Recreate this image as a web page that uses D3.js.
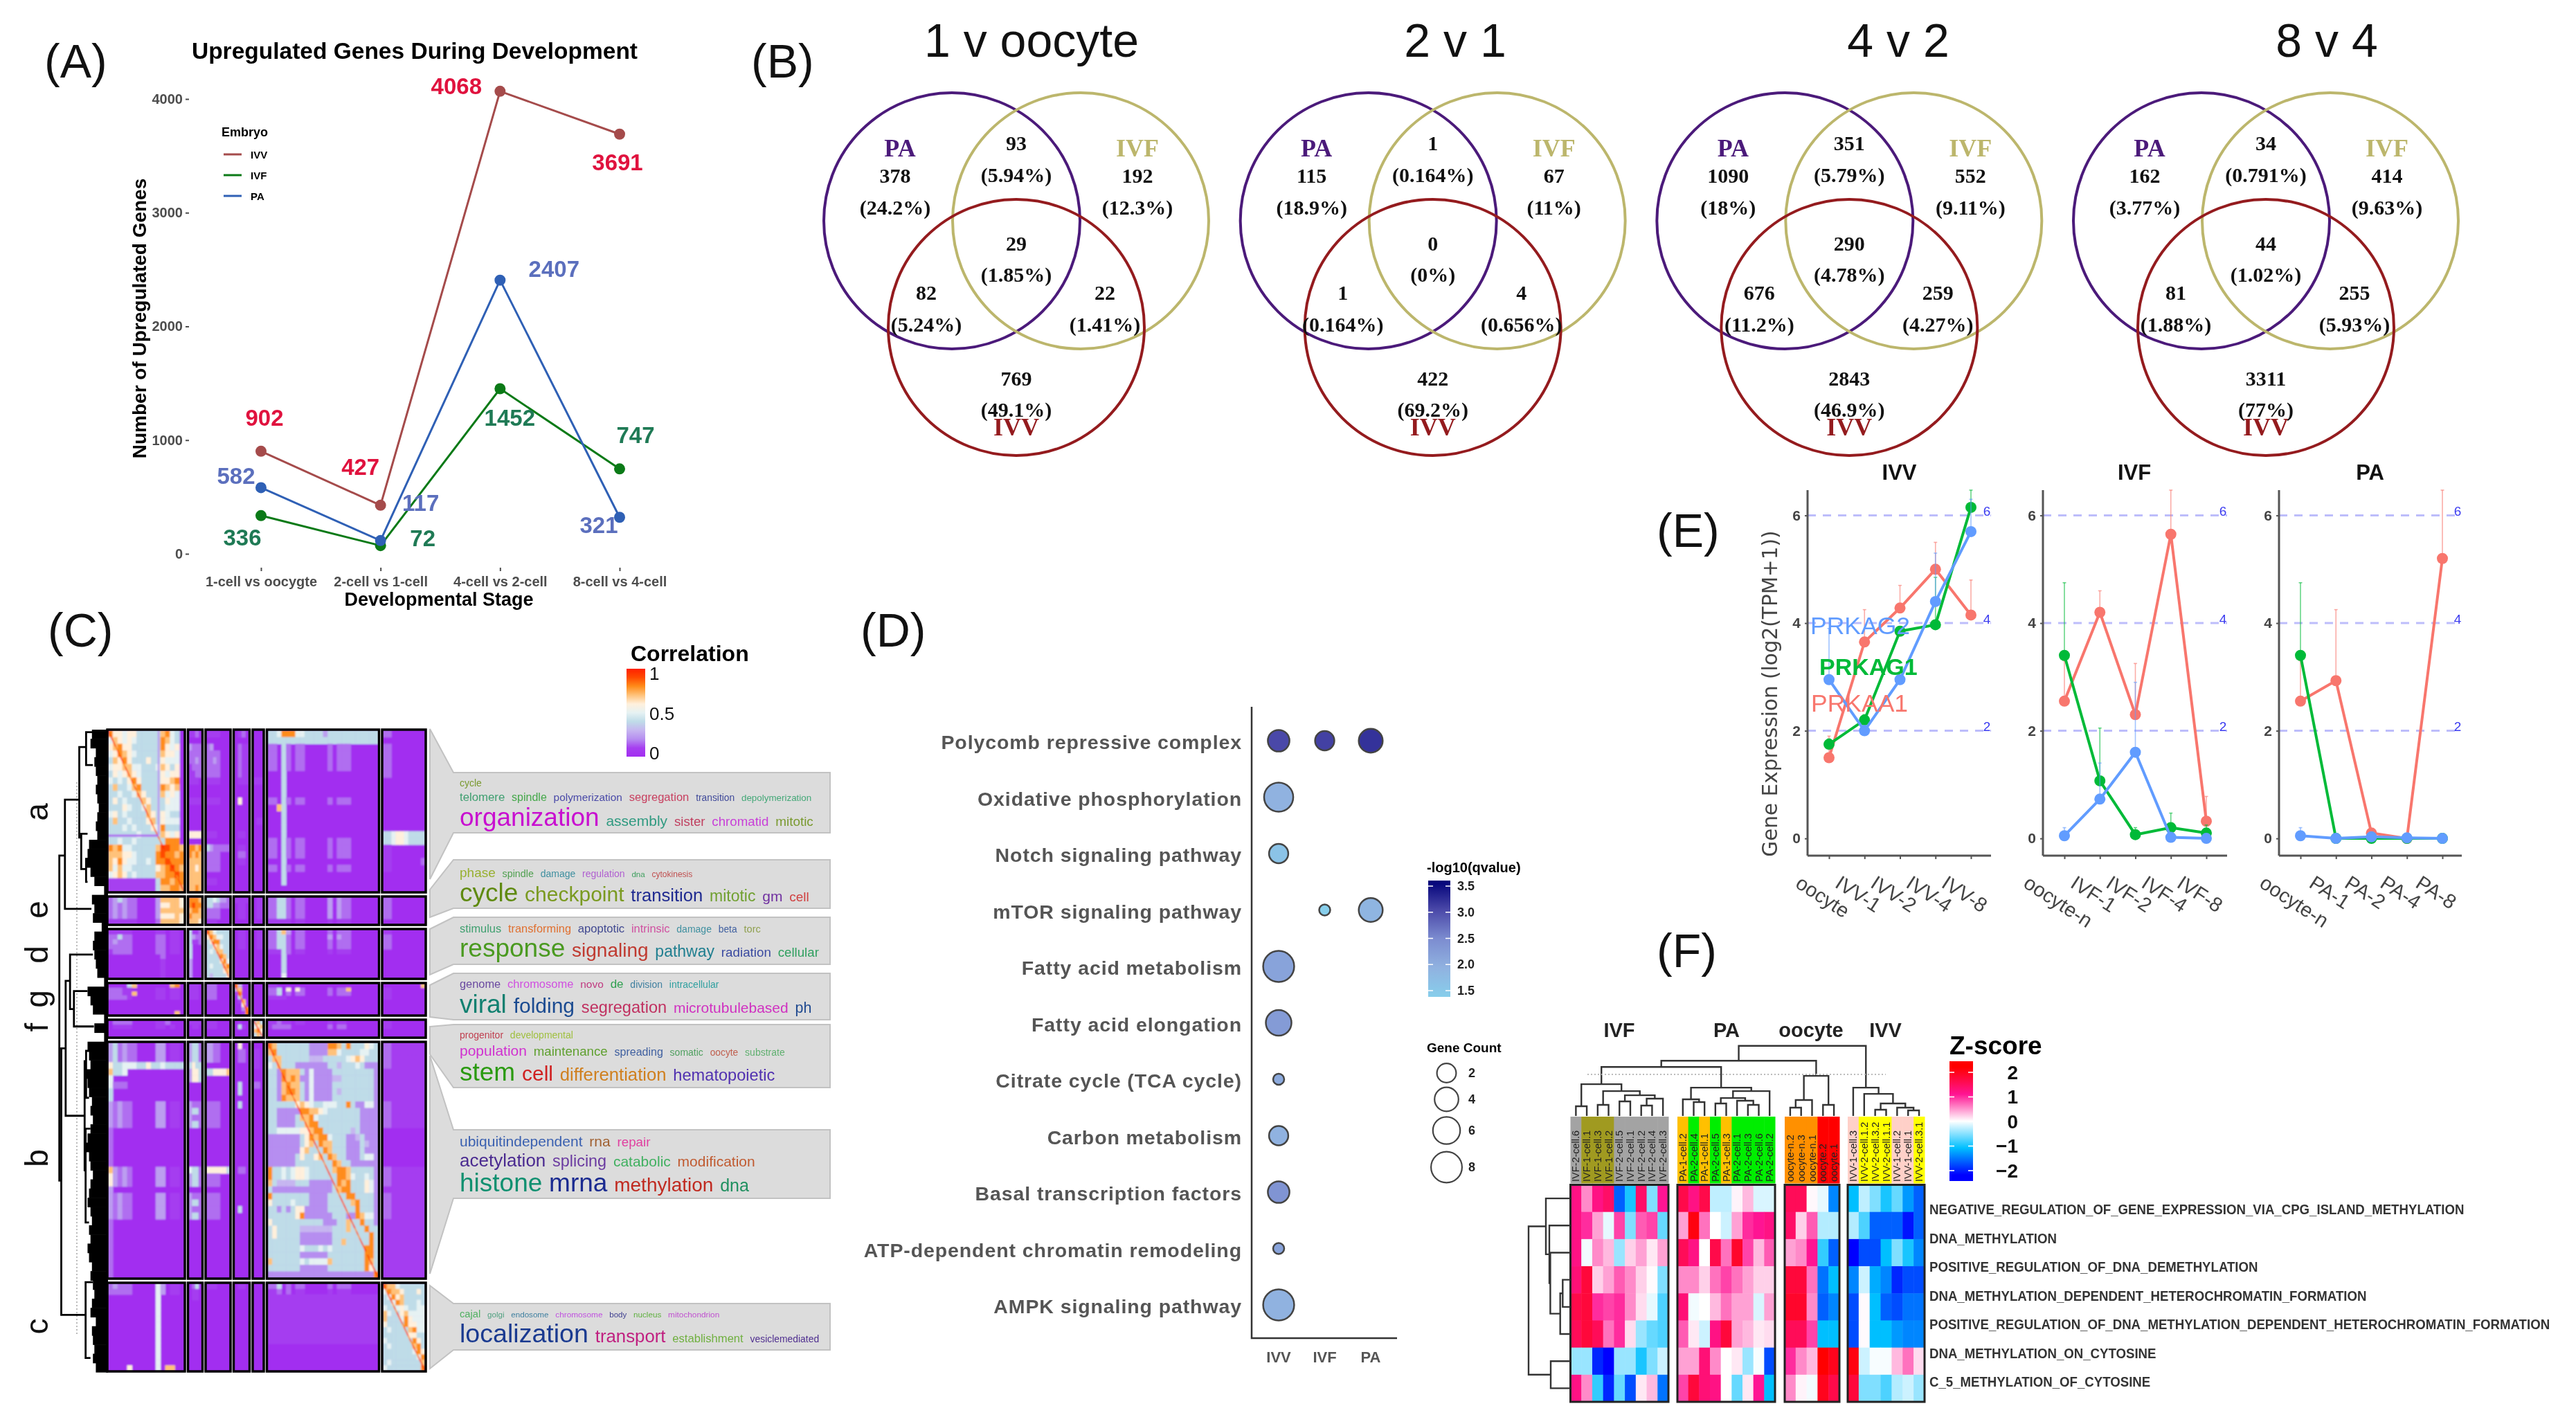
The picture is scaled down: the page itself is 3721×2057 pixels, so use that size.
<!DOCTYPE html>
<html><head><meta charset="utf-8">
<script src="https://cdn.jsdelivr.net/npm/d3@7"></script>
<style>
html,body{margin:0;background:#fff}
svg{display:block;filter:blur(.7px)}
text{font-family:"Liberation Sans",Arial,sans-serif}
</style></head><body>
<svg id="chart" width="3721" height="2057" xmlns="http://www.w3.org/2000/svg"></svg>
<script>
/* ---------- Panel A data ---------- */
const stages=["1-cell vs oocygte","2-cell vs 1-cell","4-cell vs 2-cell","8-cell vs 4-cell"];
const upIVV=[902,427,4068,3691];
const upIVF=[336,72,1452,747];
const upPA=[582,117,2407,321];
const upTicks=[0,1000,2000,3000,4000];
/* ---------- Panel B data ---------- */
const vennTitles=["1 v oocyte","2 v 1","4 v 2","8 v 4"];
const vennCounts=[[378,93,192,29,82,22,769],[115,1,67,0,1,4,422],[1090,351,552,290,676,259,2843],[162,34,414,44,81,255,3311]];
const vennPct=[["24.2%","5.94%","12.3%","1.85%","5.24%","1.41%","49.1%"],["18.9%","0.164%","11%","0%","0.164%","0.656%","69.2%"],["18%","5.79%","9.11%","4.78%","11.2%","4.27%","46.9%"],["3.77%","0.791%","9.63%","1.02%","1.88%","5.93%","77%"]];
const vennSets=["PA","IVF","IVV"];
/* ---------- Panel C data: correlation, one digit = value x 10, x = 1 ---------- */
const clusterNames=["a","e","d","g","f","b","c"];
const clusterCols=[112,21,36,23,16,162,63];
const clusterRows=[235,41,72,47,26,342,128];
const corrRowA=[
 ["8665664444478540","5765654444487540","6786644444486560","5687654444476650","4768644464465550","5667755444576460","4656765444465660","5454686444466780","4744578444487670","4454457644475650","4645444764446550","4446544574445550","5645444476465440","4744544467465550","4445454446584440","4444445444476560","4454454444448880","8785544444799887","7776654444898878","7686554454889888","7575544444678987","5676454444778898","1111111111488788","1111111111477887"],
 ["1120","","3222","2222","2232","1222","1122","1110","","","1111","","","","","6666","","8878","8787","7777","7767","7777","7777","7787"],
 ["1111000","","2300000","2222000","2232000","2222000","2222000","1111000","","","1111000","","","","","1110000","","4322222","2222000","2222000","2222000","","1110000",""],
 ["0120","","0211","0211","0211","0211","0211","0111","","","0600","","","","","0110","","0110","0220","0110","","","",""],
 ["","","","","","","","111","","","","","","011","","","","","","","","","",""],
 ["445888554444344444444444","444444444444444444444444","220420220000020222000000","220420220000020222000000","220420220000020222000000","220420220000020222000000","000400000000000000000000","000400000000000000000000","000400000000000000000000","000400000000000000000000","220420220000020222000000","007400000000000000000000","000400000000000000000000","000400000000000000000000","000400000000000000000000","000400000000000000000000","220420220000020222000000","220420220000020222000000","220420220000020222000000","000400000000000000000000","220420220000020222000000","000400000000000000000000","000400000000000000000000",""],
 ["22","","22","22","22","22","22000000003","","","","","","","","","4456654444","4456654444","11","11","1100000002","11","","",""]
];
const corrRowE=[
 ["2343220000377776","2323220000366776","2323220000377777","2323220000366676","1111110000277776"],
 ["8887","8988","7887","8777","7776"],
 ["4454332","4433222","2222000","2222000","1110000"],
 ["1111","0110","0110","0110",""],
 ["011","011","011","011",""],
 ["224420220000030322000000","224420220000030322000000","224420220000030322000000","224420220000030322000000","111110110000010111000000"],
 ["22","22","22","22",""]
];
const corrRowD=[
 ["1111100000110110","2242200000220110","2322200000220110","2222200000220110","1222200000220110","0000000000020000","0000000000010000","0000000000010000","0000000000010000","0000000000010000"],
 ["4112","4322","4112","4000","4000","4000","3000","3000","3000","3000"],
 ["8754444","6875544","4688444","4467544","4547744","4444874","4444685","4544478","4444467","4344446"],
 ["0110","0110","0110","0110","","","","","",""],
 ["011","011","011","011","","","","","",""],
 ["224730220000020222000000","224420220000030322000000","224420220000020222000000","224420220000020222000000","111420110000010111000000","000400000000000000000000","000400000000000000000000","000400000000000000000000","000400000000000000000000","000500000000000000000000"],
 ["11","22","22","22","","","","","",""]
];
const corrRowG=[
 ["0000470000000780","2221100000110110","2221170000110110","2222100000110110","","","","0000000000000070"],
 ["1110","1110","1110","1110","","","",""],
 ["2220000","2220000","2220000","2220000","","","",""],
 ["8300","3700","1800","0400","0170","0060","0028","0018"],
 ["","","","","","","",""],
 ["110000000000000000000000","224060620000020227000000","224020220000020222000000","111100000000000000000000","","","",""],
 ["0000000007","11","11","11","","","",""]
];
const corrRowF=[
 ["0222200000112000","0111100000110100","",""],
 ["1111","0110","",""],
 ["1110000","1110000","",""],
 ["0100","0410","",""],
 ["474","567","786","474"],
 ["112110110000010110000000","122220000000020220000000","",""],
 ["11","11","",""]
];
const corrRowB=[
 ["3423220000330110","3423220000330110","3423220000330110","6445554464454444","7445000000000000","5000000000000000","5222000000000000","4000000000000000","4000000000000000","3232200000330110","3232200000330110","3232200000330110","3232200000330110","2000000000000000","2000000000000000","2000000000000000","2000000000000000","2000000000000000","2000000000000000","7323200000330110","6323200000330110","6323200000330110","3000000000000000","3232200000330110","3232200000330110","3232200000330110","3232200000330110","2000000000000000","2000000000000000","2000000000000000","2000000000000000","2000000000000000","2000000000000000","2000000000000000","2000000000000000","2000000000000000"],
 ["3442","3442","3442","4644","3664","3664","","","","3222","3442","3222","3442","","","","","","","5442","3442","3442","","3222","3442","3222","3442","","","","","","","","",""],
 ["3322000","3322000","3322000","","4466667","","","","","2222000","2222000","2222000","2222000","","","","","","","6666664","2222000","2222000","","2222000","2222000","2222000","2222000","","","","","","","","",""],
 ["0600","0220","0220","","","","0400","0400","","0400","","","","","","","","","","0220","","","","","","0400","","","","","","","","","",""],
 ["","110","110","110","","","220","","","","","","","","","","","","","","","","","","","","","","","","","","","","",""],
 ["874444444222288748444654","784444444222277544445544","477444444333444445676444","547444222222244344454222","442877742522224444444442","442878722522223344444442","442787742522224444444442","442788742522224344444442","442877742522224444444442","444444676544555448422552","442222288776544444442222","442222477854444444442222","442222447884444444442222","445555566788444444342222","222222246878854442234222","222222246748774442224322","222222267444874442224222","222222464467487442224552","222222444444448744222222","844545665444447887444442","844545665444444887544542","743333444222224878444652","422222222222224788444652","844444444222244448844442","644445444222244444784442","442424662222244444484442","444444682222224442287552","644444444444222447448442","464444433333334447444844","464444422222224444444484","444444422222224474444484","444444454445454444444884","444444422222244444444884","744444454555574444444874","444444422222244444444864","222222222222222222222228"],
 ["2211111111","2211111111","2211111111","2211111111","1111111111","1111111111","1111111111","1111111111","1111111111","2211111111","2211111111","2211111111","2211111111","","","","","","","2211111111","2211111111","2211111111","1111111111","2211111111","2211111111","2211111111","2211111111","1111111111","1111111111","1111111111","1111111111","1111111111","1111111111","1111111111","1111111111","1111111111"]
];
const corrRowC=[
 ["2322200000530110","2222200000530110","0000000000500000","0000000000500000","0000000000500000","0000000000500000","0000000000500000","0000000000500000","0000000000500000","0000000000500000","0000000000500000","0000000000500000","0000000000500000","0000000000500000","0000000000500000","0000600000507700"],
 ["0240","0110","0110","","","","","","","","","","","","",""],
 ["1110000","","","","","","","","","","","","","","",""],
 ["0110","","","","","","","","","","","","","","",""],
 ["","","","","","","","","","","","","","","",""],
 ["224020220000020222000000","112020110000010111000000","111111111111111111111111","111111111111111111111111","111111111111111111111111","111111111111111111111111","111111111111111111111111","111111111111111111111111","111111111111111111111111","111111111111111111111111","111111111111111111111111","","","","",""],
 ["8775444444","5877644464","4586744444","4458744454","5445654455","7544675555","7444586555","6444486655","4544447855","4444446644","5444444864","4544444784","4444444586","4444444458","4544444447","5444444448"]
];
const corrGrid=[corrRowA,corrRowE,corrRowD,corrRowG,corrRowF,corrRowB,corrRowC];
const corrDiagonals=[
 {row:0,col:0,vals:"x9x99899x9899989898x9989x9899899989x98899x99899x9"},
 {row:2,col:2,vals:"x9898x99899x989x9898"},
 {row:3,col:3,vals:"x989x8989x9x"},
 {row:4,col:4,vals:"x9x9x"},
 {row:5,col:5,vals:"x99x89x989x9899x8989x99899x989x989x9899x99x8989x9x989x9x8989x9x899x9xxx"},
 {row:6,col:6,vals:"x9899x9898x9x9899x8989x989x9xx"}
];
const corrTicks=[0,0.5,1];
/* dendrogram C: [merge height, top position, top child height, bottom position, bottom child height] */
const clusterMerges=[[100,19.6,88.5,70.2,96],[96,49.6,87,91.1,46],[87,39.1,78,60.1,48],[78,35.0,31,43.5,70],[70,40.7,42,46.2,29],[88.5,10.9,59,27.9,34],[59,2.7,45,16.8,55],[45,0.4,31,5.5,31],[55,16.2,42,21.7,45],[45,20.1,36,23.7,42],[46,86,31,97.8,36],[48,51.6,45,68.6,46],[45,50,36,57.3,39],[46,62.1,36,76.7,39]];
const clusterLeafHeights=[33,36,25,28,25,22,25,22,19,22,25,22,39,42,45,36,28,8,33,28,31,13,28,31,28,25,22,8,42,36,31,8,28,8,42,39,36,45,42,39,33,36,31,36,42,45,39,36,31,36,39,42,36,33,39,36,42,39,33,36,31,28,33,36,25,33,31,28,31,25];
const cloudTerms=[
 [["cycle"],["telomere","spindle","polymerization","segregation","transition","depolymerization"],["organization","assembly","sister","chromatid","mitotic"]],
 [["phase","spindle","damage","regulation","dna","cytokinesis"],["cycle","checkpoint","transition","mitotic","gm","cell"]],
 [["stimulus","transforming","apoptotic","intrinsic","damage","beta","torc"],["response","signaling","pathway","radiation","cellular"]],
 [["genome","chromosome","novo","de","division","intracellular"],["viral","folding","segregation","microtubulebased","ph"]],
 [["progenitor","developmental"],["population","maintenance","spreading","somatic","oocyte","substrate"],["stem","cell","differentiation","hematopoietic"]],
 [["ubiquitindependent","rna","repair"],["acetylation","splicing","catabolic","modification"],["histone","mrna","methylation","dna"]],
 [["cajal","golgi","endosome","chromosome","body","nucleus","mitochondrion"],["localization","transport","establishment","vesiclemediated"]]
];
const cloudWeights=[
 [[14],[16.8,16,15.4,16.6,13.8,13.4],[37,21,18.7,18.7,18.9]],
 [[19,14.3,14,14,11.6,12],[37,30,25.6,23,21,19]],
 [[16.4,16.4,16.6,16.4,14,13.8,14.7],[37,28,23,18.8,18.7]],
 [[16.4,16.5,15.5,17,14,14],[37,30,23.6,21,21.5]],
 [[14,14],[21,18.7,16,14,13.8,14],[37,30,25.7,23.6]],
 [[21,21,18.8],[26,23.4,21,21],[37,37,28,25]],
 [[14.7,11.6,11.6,11.8,11.5,11.7,11.8],[37.6,25.8,16.6,13.9]]
];
/* ---------- Panel D data ---------- */
const pathways=["Polycomb repressive complex","Oxidative phosphorylation","Notch signaling pathway","mTOR signaling pathway","Fatty acid metabolism","Fatty acid elongation","Citrate cycle (TCA cycle)","Carbon metabolism","Basal transcription factors","ATP-dependent chromatin remodeling","AMPK signaling pathway"];
const embryoGroups=["IVV","IVF","PA"];
const geneCountIVV=[3,7,2,null,8,5,1,2,3,1,8];
const geneCountIVF=[2,null,null,1,null,null,null,null,null,null,null];
const geneCountPA=[4,null,null,4,null,null,null,null,null,null,null];
const qvalueIVV=[3.0,2.0,1.7,null,2.2,2.3,2.1,2.0,2.4,2.2,2.0];
const qvalueIVF=[3.05,null,null,1.5,null,null,null,null,null,null,null];
const qvaluePA=[3.15,null,null,1.95,null,null,null,null,null,null,null];
const qvalueTicks=[1.5,2.0,2.5,3.0,3.5];
const geneCountTicks=[2,4,6,8];
/* ---------- Panel E data ---------- */
const exprPanels=["IVV","IVF","PA"];
const exprStages=[["oocyte","IVV-1","IVV-2","IVV-4","IVV-8"],["oocyte-n","IVF-1","IVF-2","IVF-4","IVF-8"],["oocyte-n","PA-1","PA-2","PA-4","PA-8"]];
const genes=["PRKAA1","PRKAG1","PRKAG2"];
const exprPRKAA1=[[1.5,3.65,4.28,5.0,4.15],[2.55,4.2,2.3,5.65,0.32],[2.55,2.93,0.1,0,5.2]];
const exprPRKAG1=[[1.75,2.2,3.85,3.97,6.15],[3.4,1.07,0.07,0.2,0.1],[3.4,0,0,0,0]];
const exprPRKAG2=[[2.95,2.0,2.95,4.4,5.7],[0.05,0.73,1.6,0.02,0],[0.05,0,0.03,0.01,0]];
const upperPRKAA1=[[1.9,4.25,4.7,5.5,4.8],[3.3,4.6,3.25,6.5,0.78],[3.3,4.25,0.15,0,6.5]];
const upperPRKAG1=[[1.85,2.3,3.9,4.85,6.5],[4.75,2.05,0.2,0.47,0.25],[4.75,0,0,0,0]];
const upperPRKAG2=[[3.9,2.1,3.0,5.3,6.3],[0.2,1.4,2.9,0.05,0.02],[0.2,0,0.05,0.03,0]];
const exprTicks=[0,2,4,6];
const exprRefLines=[2,4,6];
/* ---------- Panel F data ---------- */
const sampleGroups=["IVF","PA","oocyte","IVV"];
const samplesIVF=["IVF-2-cell.6","IVF-1-cell.1","IVF-1-cell.3","IVF-1-cell.2","IVF-2-cell.5","IVF-2-cell.1","IVF-2-cell.2","IVF-2-cell.4","IVF-2-cell.3"];
const samplesPA=["PA-1-cell.2","PA-2-cell.4","PA-1-cell.1","PA-2-cell.5","PA-1-cell.3","PA-2-cell.1","PA-2-cell.3","PA-2-cell.6","PA-2-cell.2"];
const samplesOocyte=["oocyte-n.2","oocyte-n.3","oocyte-n.1","oocyte.2","oocyte.1"];
const samplesIVV=["IVV-1-cell.3","IVV-2-cell.1.2","IVV-2-cell.3.2","IVV-2-cell.1.1","IVV-1-cell.2","IVV-1-cell.1","IVV-2-cell.3.1"];
const zIVF=[[1.1,0.5,1.1,1.3,-1.5,-0.9,1.3,-0.5,1.0],[1.1,0.9,0.4,-0.1,0.8,-0.5,0.7,0.8,-0.6],[1.1,-0.05,0.5,0.3,-0.4,0.2,0.4,0.1,0.4],[1.2,1.6,0.2,0.4,0.7,0.5,0.2,0.02,-0.5],[1.5,1.6,0.9,0.8,0.9,0.5,0.15,-0.1,-0.7],[1.4,1.6,1.4,0.6,0.9,0.15,-0.4,-0.6,-0.7],[-0.4,-0.4,-1.8,-2.0,-0.4,-0.4,-0.9,-0.5,-0.2],[1.1,0.5,-0.8,-1.8,-0.6,-1.6,0.1,0.3,-1.4]];
const zPA=[[1.5,1.1,1.5,-0.25,-0.25,0.05,0.3,-0.15,-0.15],[0.4,1.9,0.6,0.0,-0.2,0.4,0.9,1.0,1.1],[1.4,1.1,0.0,1.5,0.6,1.7,0.8,0.3,0.7],[0.5,0.5,0.2,0.6,0.8,0.6,0.4,0.2,0.2],[1.2,-0.05,0.0,0.3,0.6,0.4,0.4,-0.15,0.4],[0.7,0.1,-0.2,1.1,1.6,0.4,0.3,0.1,0.15],[0.4,0.4,1.2,0.5,0.0,0.1,-0.4,-0.03,-1.6],[0.8,1.6,1.2,1.1,0.0,-0.6,0.1,1.0,-1.0]];
const zOocyte=[[1.4,1.4,0.03,-0.1,-1.3],[1.3,0.2,0.7,-0.3,-0.3],[0.4,0.5,1.0,-0.8,-1.5],[1.6,1.6,0.6,-1.4,-1.0],[1.7,1.7,0.5,-1.5,-1.3],[1.4,1.4,0.8,-1.0,-1.0],[0.9,0.5,0.3,2.0,1.8],[0.5,0.05,-0.05,1.8,1.5]];
const zIVV=[[-1.0,-0.25,-0.5,-0.9,-0.6,-1.2,-1.5],[-0.3,-0.7,-1.5,-1.5,-1.5,-1.9,-1.5],[-2.0,-1.6,-1.6,-1.0,-0.5,-0.9,-1.3],[-1.3,-0.2,-1.1,-1.3,-1.8,-1.6,-1.6],[-1.6,0.02,-1.0,-1.5,-1.6,-1.4,-1.4],[-1.6,0.02,-1.0,-1.0,-1.2,-1.3,-1.3],[1.9,-0.2,-0.03,-0.03,0.3,0.6,0.15],[1.6,-0.5,-0.5,-0.7,-0.3,-0.2,-0.4]];
const geneSets=["NEGATIVE_REGULATION_OF_GENE_EXPRESSION_VIA_CPG_ISLAND_METHYLATION","DNA_METHYLATION","POSITIVE_REGULATION_OF_DNA_DEMETHYLATION","DNA_METHYLATION_DEPENDENT_HETEROCHROMATIN_FORMATION","POSITIVE_REGULATION_OF_DNA_METHYLATION_DEPENDENT_HETEROCHROMATIN_FORMATION","DNA_METHYLATION_ON_CYTOSINE","C_5_METHYLATION_OF_CYTOSINE"];
const zTicks=[2,1,0,-1,-2];
/* sample tree: [merge height, child, child]; a number is a leaf */
const treeIVF=[46,[14,0,1],[36,[16,2,3],[30,[21,4,5],[25,[15,6,7],8]]]];
const treePA=[41,[24,9,[20,10,11]],[36,[26,[18,12,13],[22,14,[16,15,16]]],17]];
const treeOocyte=[58,[23,[12,18,19],20],[16,21,22]];
const treeIVV=[41,23,[32,24,[18,[9,25,26],[12,27,[8,28,29]]]]];
const sampleTree=[101.5,[80,[71,treeIVF,treePA],treeOocyte],treeIVV];
const rowTree=[60,[35,0,[30,1,[28.6,2,[14.3,[10.7,3,4],5]]]],[28,6,7]];

/* ---------- styles (kept apart from the data) ---------- */
const FG="#4d4d4d";
const cloudColors=[
 [["#7a9a30"],["#3f9f70","#45a84a","#4a4aa8","#c84060","#404a9a","#45a878"],["#c80fd0","#2f9a80","#c04060","#c840d8","#7a9a30"]],
 [["#98b030","#50a050","#4090a0","#b060d0","#40a060","#c05050"],["#5f8a10","#7a9a20","#1f2a90","#70a030","#7030a0","#d04040"]],
 [["#40a070","#e07030","#404890","#d050a0","#4090a0","#4060a0","#90a050"],["#4a9a20","#c03a30","#207f90","#3a4aa0","#30a060"]],
 [["#6a4aa0","#d050e0","#c03a80","#30a050","#4080a0","#30a0a0"],["#108070","#1a4a90","#c03060","#d030c0","#204a90"]],
 [["#c04050","#a0c040"],["#d030d0","#60a030","#4060a0","#50a060","#c06050","#60b070"],["#2a9a10","#d02020","#d08020","#5030b0"]],
 [["#3a60b0","#a06030","#e040a0"],["#4a2a90","#6a3aa0","#40b060","#c05a30"],["#109070","#1a2a90","#c02a20","#209060"]],
 [["#50b060","#50a080","#4080a0","#c050e0","#404090","#60b040","#c050d0"],["#1a3a90","#c02080","#70b040","#503090"]]
];
const svg=d3.select("#chart");
const defs=svg.append("defs");
defs.append("filter").attr("id","soft").attr("x","-2%").attr("y","-2%").attr("width","104%").attr("height","104%").append("feGaussianBlur").attr("stdDeviation",0.9);
function T(g,x,y,s,o={}){
  const t=g.append("text").attr("x",x).attr("y",y).text(s)
   .attr("font-size",o.size||20).attr("fill",o.fill||"#000")
   .attr("text-anchor",o.anchor||"middle").attr("dominant-baseline",o.base||"central");
  if(o.bold)t.attr("font-weight","bold");
  if(o.family)t.style("font-family",o.family);
  if(o.spacing)t.style("letter-spacing",o.spacing+"px");
  if(o.rotate!=null)t.attr("transform",`rotate(${o.rotate},${x},${y})`);
  return t;
}
/* panel tags */
[["(A)",64,112],["(B)",1085,112],["(C)",69,934],["(D)",1243,934],["(E)",2393,790],["(F)",2393,1397]].forEach(d=>
  T(svg,d[1],d[2],d[0],{size:68,anchor:"start",base:"auto",fill:"#111"}));

/* ===== Panel A ===== */
(function(){
  const g=svg.append("g");
  const x=d3.scalePoint().domain(stages).range([377,895]);
  const y=d3.scaleLinear().domain([0,4000]).range([800,143]);
  const ax=g.append("g").attr("transform","translate(273,0)").call(d3.axisLeft(y).tickValues(upTicks).tickFormat(d3.format("d")).tickSize(5).tickPadding(4));
  ax.select(".domain").remove();
  ax.selectAll("text").style("font-size","20px").style("font-weight","bold").attr("fill",FG);
  ax.selectAll("line").attr("stroke",FG).attr("stroke-width",2);
  const bx=g.append("g").attr("transform","translate(0,820)").call(d3.axisBottom(x).tickSize(5).tickPadding(8));
  bx.select(".domain").remove();
  bx.selectAll("text").style("font-size","20px").style("font-weight","bold").attr("fill",FG);
  bx.selectAll("line").attr("stroke",FG).attr("stroke-width",2);
  const series=[
   {name:"IVV",vals:upIVV,c:"#a54b4b",tc:"#e0123e",off:[[5,-48],[-29,-55],[-63,-7],[-3,41]]},
   {name:"IVF",vals:upIVF,c:"#0b7a17",tc:"#1f7a55",off:[[-27,32],[61,-11],[14,42],[23,-49]]},
   {name:"PA",vals:upPA,c:"#2f60b5",tc:"#5b6fbd",off:[[-36,-17],[58,-54],[78,-16],[-30,11]]}];
  const line=d3.line().x((d,i)=>x(stages[i])).y(d=>y(d));
  series.forEach(s=>{
    g.append("path").attr("d",line(s.vals)).attr("fill","none").attr("stroke",s.c).attr("stroke-width",3);
    g.selectAll(null).data(s.vals).join("circle").attr("cx",(d,i)=>x(stages[i])).attr("cy",d=>y(d)).attr("r",8).attr("fill",s.c);
  });
  series.forEach(s=>s.vals.forEach((v,i)=>T(g,x(stages[i])+s.off[i][0],y(v)+s.off[i][1],v,{size:33,bold:true,fill:s.tc})));
  T(g,599,73,"Upregulated Genes During Development",{size:33.5,bold:true});
  T(g,201,460,"Number of Upregulated Genes",{size:28,bold:true,rotate:-90});
  T(g,634,866,"Developmental Stage",{size:27,bold:true});
  T(g,320,191,"Embryo",{size:18,bold:true,anchor:"start"});
  series.forEach((s,i)=>{
    const ly=d3.scalePoint().domain(series.map(d=>d.name)).range([223,283])(s.name);
    g.append("line").attr("x1",323).attr("x2",349).attr("y1",ly).attr("y2",ly).attr("stroke",s.c).attr("stroke-width",3);
    T(g,362,ly,s.name,{size:15,bold:true,anchor:"start"});
  });
})();

/* ===== Panel B ===== */
(function(){
  const regionOff=[[-82,253,299],[93,206,252],[268,253,299],[93,351,396],[-37,422,468],[221,422,468],[93,546,591]];
  const setStyle=[{c:"#4b1a7a",dx:0,dy:319,lx:-75,ly:214},{c:"#bcb66c",dx:186,dy:319,lx:268,ly:214},{c:"#941b1e",dx:93,dy:473,lx:93,ly:617}];
  const serif='"Liberation Serif",serif';
  const px=d3.scalePoint().domain(vennTitles).range([1375,3180]);
  const ttlx=[1490,2102,2742,3361];
  vennTitles.forEach((t,i)=>{
    const g=svg.append("g");const cx=px(t);
    T(g,ttlx[i],82,t,{size:68,anchor:"middle",base:"auto",fill:"#111"});
    vennSets.forEach((n,k)=>{
      const s=setStyle[k];
      g.append("circle").attr("cx",cx+s.dx).attr("cy",s.dy).attr("r",185).attr("fill","none").attr("stroke",s.c).attr("stroke-width",4);
    });
    vennSets.forEach((n,k)=>{const s=setStyle[k];
      T(g,cx+s.lx,s.ly,n,{size:36,bold:true,fill:s.c,family:serif});});
    regionOff.forEach((o,k)=>{
      T(g,cx+o[0],o[1],vennCounts[i][k],{size:30,bold:true,fill:"#111",family:serif});
      T(g,cx+o[0],o[2],"("+vennPct[i][k]+")",{size:30,bold:true,fill:"#111",family:serif});
    });
  });
})();

/* ===== Panel C ===== */
(function(){
  const g=svg.append("g");
  const heat=g.append("g").attr("filter","url(#soft)");
  const color=d3.scaleLinear().domain([0,.1,.2,.3,.4,.5,.6,.7,.8,.9,1])
    .range(["#a22ef0","#a63ff0","#b68ef0","#c6b6f0","#bfdce8","#e6f2f3","#fff0dc","#ffc27a","#ff8c1a","#ff4a00","#ff2000"]);
  const cum=(a,gap,st)=>{let p=st;return a.map(v=>{const r=[p,p+v];p+=v+gap;return r;});};
  const colX=cum(clusterCols,4.5,155), rowY=cum(clusterRows,6,1054);
  const val=c=>c==="x"?1:(+c)/10;
  corrGrid.forEach((row,ri)=>row.forEach((grid,ci)=>{
    const [x0,x1]=colX[ci],[y0,y1]=rowY[ri];
    const nc=[16,4,7,4,3,24,10][ci], nr=grid.length;
    const xs=d3.scaleBand().domain(d3.range(nc)).range([x0+1,x1-1]);
    const ys=d3.scaleBand().domain(d3.range(nr)).range([y0+1,y1-1]);
    const b=heat.append("g");
    const tint=ri===ci?1:.8; /* faint patches between clusters */
    b.append("rect").attr("x",x0).attr("y",y0).attr("width",x1-x0).attr("height",y1-y0).attr("fill",color(0));
    grid.forEach((str,r)=>{for(let c=0;c<nc;c++){
      const ch=str[c]||"0";
      if(ch==="0")continue;
      const v=val(ch);
      b.append("rect").attr("x",xs(c)).attr("y",ys(r)).attr("width",xs.bandwidth()+.6).attr("height",ys.bandwidth()+.6).attr("fill",color(v<=.3?v*tint:v));
    }});
  }));
  corrDiagonals.forEach(d=>{
    const [x0,x1]=colX[d.col],[y0,y1]=rowY[d.row];const n=d.vals.length;
    const xs=d3.scaleLinear().domain([0,n]).range([x0+1,x1-1]),ys=d3.scaleLinear().domain([0,n]).range([y0+1,y1-1]);
    heat.selectAll(null).data(d.vals.split("")).join("line")
      .attr("x1",(v,i)=>xs(i)).attr("y1",(v,i)=>ys(i)).attr("x2",(v,i)=>xs(i+1)).attr("y2",(v,i)=>ys(i+1))
      .attr("stroke",v=>color(val(v))).attr("stroke-width",1.9);
  });
  /* a-block cross streaks */
  const [ax0,ax1]=colX[0],[ay0,ay1]=rowY[0];
  heat.append("rect").attr("x",ax0+1).attr("y",ay0+.645*(ay1-ay0)).attr("width",.65*(ax1-ax0)).attr("height",3).attr("fill",color(.15));
  heat.append("rect").attr("x",ax0+.65*(ax1-ax0)).attr("y",ay0).attr("width",2.5).attr("height",.645*(ay1-ay0)).attr("fill",color(.22));
  colX.forEach(cx=>rowY.forEach(ry=>{
    g.append("rect").attr("x",cx[0]).attr("y",ry[0]).attr("width",cx[1]-cx[0]).attr("height",ry[1]-ry[0]).attr("fill","none").attr("stroke","#000").attr("stroke-width",3.5);
  }));
  /* dendrogram */
  const hx=d3.scaleLinear().domain([0,100]).range([156,85.7]);
  const py=d3.scaleLinear().domain([0,100]).range([1054,1982]);
  g.append("line").attr("x1",111).attr("x2",111).attr("y1",1130).attr("y2",1930).attr("stroke","#bbb").attr("stroke-width",2).attr("stroke-dasharray","2 3");
  const lb=d3.scaleBand().domain(d3.range(clusterLeafHeights.length)).range([1054,1982]);
  g.selectAll(null).data(clusterLeafHeights).join("rect").attr("x",d=>hx(d)).attr("y",(d,i)=>lb(i)).attr("width",d=>hx(0)-hx(d)).attr("height",lb.bandwidth()+.6).attr("fill","#000");
  g.selectAll(null).data(clusterMerges).join("path").attr("fill","none").attr("stroke","#000").attr("stroke-width",2.8)
    .attr("d",m=>`M${hx(m[2])},${py(m[1])}H${hx(m[0])}V${py(m[3])}H${hx(m[4])}`);
  const letterY=[1173,1314,1379,1443,1484,1673,1916];
  clusterNames.forEach((n,i)=>T(g,53,letterY[i],n,{size:46,rotate:-90,fill:"#111"}));
  /* legend */
  T(g,911,944,"Correlation",{size:32,bold:true,anchor:"start"});
  const grad=defs.append("linearGradient").attr("id","gC").attr("x1",0).attr("x2",0).attr("y1",1).attr("y2",0);
  d3.range(0,1.001,.1).forEach(t=>grad.append("stop").attr("offset",t).attr("stop-color",color(t)));
  g.append("rect").attr("x",905).attr("y",966).attr("width",27).attr("height",127).attr("fill","url(#gC)");
  const cl=d3.scaleLinear().domain([0,1]).range([1088,973]);
  corrTicks.forEach(t=>T(g,938,cl(t),t,{size:26,anchor:"start",fill:"#111"}));
  /* callouts */
  const co=[[1053,1270,1116,1203],[1285,1325,1242,1312],[1342,1408,1325,1393],[1423,1469,1406,1473],[1483,1523,1480,1571],[1525,1840,1632,1731],[1857,1977,1883,1950]];
  const base=[[1136,1157,1193],[1267,1302],[1347,1382],[1427,1463],[1500,1525,1561],[1656,1685,1721],[1903,1939]];
  co.forEach((b,i)=>{
    g.append("path").attr("d",`M621,${b[0]}L655,${b[2]}H1199V${b[3]}H655L621,${b[1]}Z`).attr("fill","#dcdcdc").attr("stroke","#c2c2c2").attr("stroke-width",2);
    cloudTerms[i].forEach((ln,li)=>{
      let xp=664;
      ln.forEach((w,wi)=>{
        const t=T(g,xp,base[i][li],w,{size:cloudWeights[i][li][wi],anchor:"start",base:"auto",fill:cloudColors[i][li][wi]});
        xp+=t.node().getComputedTextLength()+9.8;
      });
    });
  });
})();

/* ===== Panel D ===== */
(function(){
  const g=svg.append("g");
  const y=d3.scalePoint().domain(pathways).range([1070,1885]);
  const x=d3.scalePoint().domain(embryoGroups).range([1847,1980]);
  const c=d3.scaleLinear().domain(qvalueTicks).range(["#87ceeb","#90b2e0","#7c8cd0","#4a48a8","#000078"]);
  const r=d3.scaleLinear().domain([1,2,4,6,8]).range([8,13.9,17.3,19.7,22.4]);
  g.append("path").attr("d","M1808,1021V1933H2018").attr("fill","none").attr("stroke","#333").attr("stroke-width",2.5);
  pathways.forEach(p=>T(g,1794,y(p)+2,p,{size:28.5,bold:true,anchor:"end",fill:"#555",spacing:.9}));
  embryoGroups.forEach(e=>T(g,x(e),1960,e,{size:22,bold:true,fill:"#555"}));
  [[geneCountIVV,qvalueIVV,"IVV"],[geneCountIVF,qvalueIVF,"IVF"],[geneCountPA,qvaluePA,"PA"]].forEach(s=>{
    s[0].forEach((n,i)=>{ if(n==null)return;
      g.append("circle").attr("cx",x(s[2])).attr("cy",y(pathways[i])).attr("r",r(n)).attr("fill",c(s[1][i])).attr("stroke","#444").attr("stroke-width",2.5);
    });
  });
  T(g,2061,1253,"-log10(qvalue)",{size:20,bold:true,anchor:"start"});
  const grad=defs.append("linearGradient").attr("id","gD").attr("x1",0).attr("x2",0).attr("y1",1).attr("y2",0);
  qvalueTicks.forEach((t,i)=>grad.append("stop").attr("offset",i/4).attr("stop-color",c(t)));
  g.append("rect").attr("x",2063).attr("y",1272).attr("width",32).attr("height",168).attr("fill","url(#gD)");
  const ly=d3.scaleLinear().domain([1.5,3.5]).range([1431,1280]);
  qvalueTicks.forEach(t=>{
    g.append("line").attr("x1",2063).attr("x2",2070).attr("y1",ly(t)).attr("y2",ly(t)).attr("stroke","#fff").attr("stroke-width",1.5);
    g.append("line").attr("x1",2088).attr("x2",2095).attr("y1",ly(t)).attr("y2",ly(t)).attr("stroke","#fff").attr("stroke-width",1.5);
    T(g,2105,ly(t),t.toFixed(1),{size:18,bold:true,anchor:"start",fill:"#222"});
  });
  T(g,2061,1513,"Gene Count",{size:19,bold:true,anchor:"start"});
  const gy=[1550,1588,1633,1686];
  geneCountTicks.forEach((n,i)=>{
    g.append("circle").attr("cx",2089.5).attr("cy",gy[i]).attr("r",r(n)).attr("fill","none").attr("stroke","#444").attr("stroke-width",2.2);
    T(g,2126,gy[i],n,{size:18,bold:true,fill:"#222"});
  });
})();

/* ===== Panel E ===== */
(function(){
  const g=svg.append("g");
  const ax=[2611,2951,3292], ar=[2876,3217,3556];
  const y=d3.scaleLinear().domain([-0.32,6.47]).range([1236,708]);
  const cols=["#f8766d","#00ba38","#619cff"];
  const vals=[exprPRKAA1,exprPRKAG1,exprPRKAG2], ups=[upperPRKAA1,upperPRKAG1,upperPRKAG2];
  exprPanels.forEach((p,i)=>{
    const p0=g.append("g");
    const x=d3.scalePoint().domain(exprStages[i]).range([ax[i]+31,ax[i]+236]);
    exprRefLines.forEach(v=>{
      p0.append("line").attr("x1",ax[i]).attr("x2",ar[i]).attr("y1",y(v)).attr("y2",y(v)).attr("stroke","#bdbdfb").attr("stroke-width",3).attr("stroke-dasharray","12 10");
      T(p0,ar[i]-6,y(v)-6,v,{size:19,fill:"#3a3af0"});
    });
    const left=p0.append("g").attr("transform",`translate(${ax[i]},0)`).call(d3.axisLeft(y).tickValues(exprTicks).tickFormat(d=>d).tickSize(4).tickPadding(6));
    left.select(".domain").attr("stroke","#555").attr("stroke-width",3).attr("d","M0,708V1236");
    left.selectAll("line").attr("stroke","#555").attr("stroke-width",2);
    left.selectAll("text").style("font-size","21px").attr("fill","#444").style("font-weight","bold");
    const bot=p0.append("g").attr("transform","translate(0,1236)").call(d3.axisBottom(x).tickSize(5).tickFormat(""));
    bot.select(".domain").attr("stroke","#555").attr("stroke-width",3).attr("d",`M${ax[i]},0H${ar[i]}`);
    bot.selectAll("line").attr("stroke","#555").attr("stroke-width",2);
    exprStages[i].forEach(s=>{
      const t=T(p0,0,0,s,{size:29,fill:"#444"});
      const L=t.node().getComputedTextLength();
      const cy=1272+L/2*Math.sin(33*Math.PI/180);
      t.attr("x",x(s)-9).attr("y",cy).attr("transform",`rotate(33,${x(s)-9},${cy})`);
    });
    const ln=d3.line().x((d,k)=>x(exprStages[i][k])).y(d=>y(d));
    vals.forEach((v,s)=>{
      const up=ups[s][i], vv=v[i];
      vv.forEach((d,k)=>{const xx=x(exprStages[i][k]);
        p0.append("line").attr("x1",xx).attr("x2",xx).attr("y1",y(d)).attr("y2",y(Math.min(up[k],6.47))).attr("stroke",cols[s]).attr("stroke-width",1.6).attr("opacity",.6);
        p0.append("line").attr("x1",xx-2.5).attr("x2",xx+2.5).attr("y1",y(Math.min(up[k],6.47))).attr("y2",y(Math.min(up[k],6.47))).attr("stroke",cols[s]).attr("stroke-width",1.6).attr("opacity",.6);
      });
      p0.append("path").attr("d",ln(vv)).attr("fill","none").attr("stroke",cols[s]).attr("stroke-width",4);
      p0.selectAll(null).data(vv).join("circle").attr("cx",(d,k)=>x(exprStages[i][k])).attr("cy",d=>y(d)).attr("r",8).attr("fill",cols[s]);
    });
    T(p0,[2743.5,3083,3423.6][i],682,p,{size:31,bold:true,fill:"#111"});
  });
  T(g,2557,1002,"Gene Expression (log2(TPM+1))",{size:29.5,rotate:-90,fill:"#444",family:'"DejaVu Sans",sans-serif'});
  T(g,2615,904,genes[2],{size:35.5,anchor:"start",fill:"#619cff"});
  T(g,2628,963,genes[1],{size:34,anchor:"start",fill:"#00ba38",bold:true});
  T(g,2616,1016,genes[0],{size:35.5,anchor:"start",fill:"#f8766d"});
})();

/* ===== Panel F ===== */
(function(){
  const g=svg.append("g");
  const color=d3.scaleLinear().domain([-2,-1,0,1,2]).range(["#0000ff","#00bfff","#ffffff","#ff1493","#ff0000"]);
  const blocks=[
   {samples:samplesIVF,z:zIVF,x0:2268.5,x1:2410,t:2339,ann:["#a3a3a3","#a09a20","#a09a20","#a09a20","#a3a3a3","#a3a3a3","#a3a3a3","#a3a3a3","#a3a3a3"]},
   {samples:samplesPA,z:zPA,x0:2423,x1:2564,t:2494,ann:["#ffc000","#00ee00","#ffc000","#00ee00","#ffc000","#00ee00","#00ee00","#00ee00","#00ee00"]},
   {samples:samplesOocyte,z:zOocyte,x0:2578,x1:2657,t:2616,ann:["#ff9000","#ff9000","#ff9000","#ff0000","#ff0000"]},
   {samples:samplesIVV,z:zIVV,x0:2669,x1:2780,t:2723.5,ann:["#ffd0c8","#ffff00","#ffff00","#ffff00","#ffd0c8","#ffd0c8","#ffff00"]}];
  const y=d3.scaleBand().domain(d3.range(8)).range([1711.5,2025]);
  const centers=[];
  blocks.forEach((b,bi)=>{
    const x=d3.scaleBand().domain(b.samples).range([b.x0,b.x1]);
    b.samples.forEach((s,c)=>{
      centers.push(x(s)+x.bandwidth()/2);
      g.append("rect").attr("x",x(s)).attr("y",1613).attr("width",x.bandwidth()+.5).attr("height",96.5).attr("fill",b.ann[c]);
      T(g,x(s)+x.bandwidth()/2,1707,s,{size:14.5,anchor:"start",rotate:-90,fill:"#222"});
    });
    b.z.forEach((row,r)=>row.forEach((v,c)=>{
      g.append("rect").attr("x",x(b.samples[c])).attr("y",y(r)).attr("width",x.bandwidth()+.5).attr("height",y.bandwidth()+.5).attr("fill",color(v));
    }));
    g.append("rect").attr("x",b.x0).attr("y",1711.5).attr("width",b.x1-b.x0).attr("height",313.5).attr("fill","none").attr("stroke","#222").attr("stroke-width",3);
    T(g,b.t,1488,sampleGroups[bi],{size:29,bold:true,fill:"#222"});
  });
  const hy=d3.scaleLinear().domain([0,101.5]).range([1612,1510.8]);
  const hx=d3.scaleLinear().domain([0,60]).range([2268,2208]);
  const rowPos=i=>y(i)+y.bandwidth()/2;
  function walk(t,pos,out,hs){
    if(typeof t==="number")return{p:pos(t),h:0};
    const a=walk(t[1],pos,out,hs),b=walk(t[2],pos,out,hs);
    out.push({a,b,h:t[0]});
    return{p:(a.p+b.p)/2,h:t[0]};
  }
  const colSegs=[];walk(sampleTree,i=>centers[i],colSegs);
  g.selectAll(null).data(colSegs).join("path").attr("fill","none").attr("stroke","#333").attr("stroke-width",2.4)
    .attr("d",s=>`M${s.a.p},${hy(s.a.h)}V${hy(s.h)}H${s.b.p}V${hy(s.b.h)}`);
  const rowSegs=[];walk(rowTree,rowPos,rowSegs);
  g.selectAll(null).data(rowSegs).join("path").attr("fill","none").attr("stroke","#333").attr("stroke-width",2.4)
    .attr("d",s=>`M${hx(s.a.h)},${s.a.p}H${hx(s.h)}V${s.b.p}H${hx(s.b.h)}`);
  g.append("line").attr("x1",2293).attr("x2",2724).attr("y1",1552).attr("y2",1552).attr("stroke","#bbb").attr("stroke-width",2).attr("stroke-dasharray","2 3");
  const ly=d3.scalePoint().domain(geneSets).range([1747,1996]);
  const labs=geneSets.map(s=>T(g,0,0,s,{size:20.5,bold:true,anchor:"start",fill:"#333"}));
  const longest=d3.max(labs,t=>t.node().getComputedTextLength());
  const sx=897/longest;
  labs.forEach((t,i)=>t.attr("transform",`translate(2787,${ly(geneSets[i])}) scale(${sx},1)`));
  T(g,2816,1510.5,"Z-score",{size:37,bold:true,anchor:"start"});
  const grad=defs.append("linearGradient").attr("id","gF").attr("x1",0).attr("x2",0).attr("y1",1).attr("y2",0);
  [-2,-1,0,1,2].forEach((v,i)=>grad.append("stop").attr("offset",.05+i*.225).attr("stop-color",color(v)));
  g.append("rect").attr("x",2816).attr("y",1533).attr("width",34).attr("height",173).attr("fill","url(#gF)");
  const lz=d3.scaleLinear().domain([-2,2]).range([1691,1549]);
  zTicks.forEach(t=>{
    g.append("line").attr("x1",2816).attr("x2",2823).attr("y1",lz(t)).attr("y2",lz(t)).attr("stroke","#fff").attr("stroke-width",1.6);
    g.append("line").attr("x1",2843).attr("x2",2850).attr("y1",lz(t)).attr("y2",lz(t)).attr("stroke","#fff").attr("stroke-width",1.6);
    T(g,2915,lz(t),t<0?"\u2212"+(-t):t,{size:28,bold:true,anchor:"end",fill:"#111"});
  });
})();
</script>
</body></html>
